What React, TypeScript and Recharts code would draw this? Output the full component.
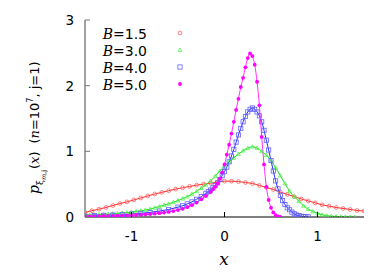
import React from 'react';
import { LineChart, Line, XAxis, YAxis, Legend } from 'recharts';

// ---------- data ----------
const redX = [-1.5, -1.425, -1.35, -1.275, -1.2, -1.125, -1.05, -0.975, -0.9, -0.825, -0.75, -0.675, -0.6, -0.525, -0.45, -0.375, -0.3, -0.225, -0.15, -0.075, 0, 0.075, 0.15, 0.225, 0.3, 0.375, 0.45, 0.525, 0.6, 0.675, 0.75, 0.825, 0.9, 0.975, 1.05, 1.125, 1.2, 1.275, 1.35, 1.425, 1.5];
const redY = [0.07, 0.095, 0.12, 0.145, 0.175, 0.205, 0.23, 0.26, 0.29, 0.32, 0.35, 0.375, 0.4, 0.425, 0.445, 0.465, 0.485, 0.5, 0.515, 0.53, 0.545, 0.545, 0.54, 0.525, 0.51, 0.48, 0.45, 0.42, 0.38, 0.345, 0.31, 0.275, 0.245, 0.215, 0.185, 0.165, 0.145, 0.13, 0.115, 0.1, 0.09];

const greenX = [-1.5, -1.45, -1.4, -1.35, -1.3, -1.25, -1.2, -1.15, -1.1, -1.05, -1.0, -0.95, -0.9, -0.85, -0.8, -0.75, -0.7, -0.65, -0.6, -0.55, -0.5, -0.45, -0.4, -0.35, -0.3, -0.25, -0.2, -0.15, -0.1, -0.05, 0, 0.05, 0.1, 0.15, 0.2, 0.25, 0.3, 0.35, 0.4, 0.45, 0.5, 0.55, 0.6, 0.65, 0.7, 0.75, 0.8, 0.85, 0.9, 0.95, 1.0, 1.05, 1.1, 1.15, 1.2, 1.25, 1.3, 1.35, 1.4];
const greenY = [0.03, 0.032, 0.035, 0.037, 0.04, 0.045, 0.05, 0.055, 0.06, 0.067, 0.075, 0.085, 0.095, 0.107, 0.12, 0.14, 0.16, 0.18, 0.2, 0.225, 0.25, 0.28, 0.31, 0.35, 0.39, 0.44, 0.49, 0.55, 0.62, 0.7, 0.78, 0.84, 0.9, 0.96, 1.01, 1.05, 1.07, 1.05, 1.0, 0.94, 0.86, 0.75, 0.63, 0.51, 0.39, 0.31, 0.24, 0.17, 0.12, 0.085, 0.055, 0.035, 0.02, 0.012, 0.006, 0.003, 0.001, 0, 0];

const blueX = [-1.5, -1.4, -1.3, -1.2, -1.1, -1.0, -0.9, -0.8, -0.7, -0.6, -0.5, -0.45, -0.4, -0.35, -0.3, -0.25, -0.2, -0.175, -0.15, -0.125, -0.1, -0.075, -0.05, -0.025, 0, 0.025, 0.05, 0.075, 0.1, 0.125, 0.15, 0.175, 0.2, 0.225, 0.25, 0.275, 0.3, 0.325, 0.35, 0.375, 0.4, 0.425, 0.45, 0.475, 0.5, 0.525, 0.55, 0.575, 0.6, 0.625, 0.65, 0.675, 0.7, 0.725, 0.75, 0.775, 0.8, 0.825, 0.85, 0.875, 0.9];
const blueY = [0.015, 0.02, 0.025, 0.03, 0.035, 0.045, 0.055, 0.07, 0.09, 0.115, 0.15, 0.17, 0.2, 0.23, 0.27, 0.31, 0.36, 0.385, 0.41, 0.445, 0.48, 0.52, 0.57, 0.63, 0.69, 0.76, 0.84, 0.93, 1.03, 1.14, 1.25, 1.35, 1.45, 1.53, 1.6, 1.64, 1.66, 1.64, 1.6, 1.54, 1.45, 1.32, 1.17, 1.02, 0.86, 0.7, 0.55, 0.43, 0.33, 0.25, 0.19, 0.14, 0.11, 0.075, 0.05, 0.03, 0.02, 0.012, 0.008, 0.004, 0.002];

const magentaX = [-1.5, -1.45, -1.4, -1.35, -1.3, -1.25, -1.2, -1.15, -1.1, -1.05, -1.0, -0.95, -0.9, -0.85, -0.8, -0.75, -0.7, -0.65, -0.6, -0.55, -0.5, -0.45, -0.4, -0.35, -0.3, -0.25, -0.2, -0.15, -0.125, -0.1, -0.075, -0.05, -0.025, 0, 0.025, 0.05, 0.075, 0.1, 0.125, 0.15, 0.175, 0.2, 0.225, 0.25, 0.275, 0.3, 0.325, 0.35, 0.375, 0.4, 0.425, 0.45, 0.475, 0.5, 0.525, 0.55, 0.575, 0.6];
const magentaY = [0.01, 0.011, 0.012, 0.013, 0.015, 0.016, 0.018, 0.02, 0.022, 0.025, 0.028, 0.031, 0.035, 0.04, 0.045, 0.051, 0.058, 0.067, 0.078, 0.09, 0.105, 0.125, 0.15, 0.18, 0.22, 0.27, 0.32, 0.38, 0.42, 0.46, 0.51, 0.58, 0.68, 0.8, 0.95, 1.1, 1.27, 1.45, 1.63, 1.8, 1.98, 2.12, 2.28, 2.42, 2.49, 2.45, 2.32, 2.06, 1.7, 1.22, 0.8, 0.46, 0.26, 0.14, 0.07, 0.03, 0.01, 0.003];

const seriesLabels = ['1.5', '3.0', '4.0', '5.0'];
const xTicks = [-1, 0, 1];
const yTicks = [0, 1, 2, 3];

const toRows = (xs: number[], ys: number[]) => xs.map((x, i) => ({ x, y: ys[i] }));

const COLORS = {
  red: { line: '#ff2a2a', mark: '#ff6060' },
  green: { line: '#16e016', mark: '#50f050' },
  blue: { line: '#2a2aff', mark: '#6060ff' },
  magenta: { line: '#ff30ff', mark: '#ff00ff' },
};

const SANS = '"DejaVu Sans", "Liberation Sans", Arial, sans-serif';
const SERIF = '"DejaVu Serif", "Liberation Serif", serif';

// ---------- markers ----------
const Marker = ({ kind, cx, cy, color }: { kind: string; cx: number; cy: number; color: string }) => {
  if (kind === 'circle') return <circle cx={cx} cy={cy} r={1.9} fill="none" stroke={color} strokeWidth={0.8} />;
  if (kind === 'triangle')
    return (
      <polygon
        points={`${cx},${cy - 2} ${cx - 1.9},${cy + 1.4} ${cx + 1.9},${cy + 1.4}`}
        fill="none"
        stroke={color}
        strokeWidth={0.8}
      />
    );
  if (kind === 'square') return <rect x={cx - 2.1} y={cy - 2.1} width={4.2} height={4.2} fill="none" stroke={color} strokeWidth={0.8} />;
  return <circle cx={cx} cy={cy} r={1.9} fill={color} stroke="none" />;
};

const makeDot = (kind: string, color: string) => (props: any) => {
  const { cx, cy, index } = props;
  if (cx == null || cy == null) return <g key={`d-${index}`} />;
  return <Marker key={`d-${kind}-${index}`} kind={kind} cx={cx} cy={cy} color={color} />;
};

// ---------- ticks ----------
const BottomTick = (props: any) => {
  const { x, y, payload } = props;
  return (
    <g>
      <line x1={x} y1={y} x2={x} y2={y - 5} stroke="#000" strokeWidth={1} />
      <text x={x} y={y + 24} textAnchor="middle" fontSize={13.5} fontFamily={SANS} fill="#000">
        {String(payload.value)}
      </text>
    </g>
  );
};
const TopTick = (props: any) => {
  const { x, y } = props;
  return <line x1={x} y1={y} x2={x} y2={y + 4} stroke="#555" strokeWidth={1} />;
};
const LeftTick = (props: any) => {
  const { x, y, payload } = props;
  return (
    <g>
      <line x1={x} y1={y} x2={x + 5} y2={y} stroke="#777" strokeWidth={1} />
      <text x={x - 11} y={y + 5} textAnchor="end" fontSize={13.5} fontFamily={SANS} fill="#000">
        {String(payload.value)}
      </text>
    </g>
  );
};
const RightTick = (props: any) => {
  const { x, y } = props;
  return <line x1={x} y1={y} x2={x - 4} y2={y} stroke="#777" strokeWidth={1} />;
};

// ---------- legend ----------
const legendKinds = [
  { kind: 'circle', color: COLORS.red.mark },
  { kind: 'triangle', color: COLORS.green.mark },
  { kind: 'square', color: COLORS.blue.mark },
  { kind: 'dot', color: COLORS.magenta.mark },
];
const LegendContent = () => (
  <svg width={390} height={273} style={{ position: 'absolute', left: 0, top: 0, overflow: 'visible' }}>
    {seriesLabels.map((lab, i) => {
      const base = 39 + i * 17;
      return (
        <g key={lab}>
          <text x={147} y={base} textAnchor="end" fontSize={14} fontFamily={SANS} fill="#000">
            <tspan fontFamily={SERIF} fontStyle="italic">B</tspan>
            <tspan>={lab}</tspan>
          </text>
          <Marker kind={legendKinds[i].kind} cx={180} cy={base - 6} color={legendKinds[i].color} />
        </g>
      );
    })}
  </svg>
);

// ---------- axis labels ----------
const YLabel = () => (
  <svg width={390} height={273} style={{ position: 'absolute', left: 0, top: 0, pointerEvents: 'none' }}>
    <text transform="translate(39,194) rotate(-90)" fontSize={13} fontFamily={SANS} fill="#000">
      <tspan fontFamily={SERIF} fontStyle="italic" fontSize={14}>p</tspan>
      <tspan fontFamily={SERIF} fontSize={9} dy={4}>ξ</tspan>
      <tspan fontFamily={SERIF} fontStyle="italic" fontSize={6.5} dy={3}>m</tspan>
      <tspan fontSize={6.5}>,j</tspan>
      <tspan dy={-7} dx={1}>(</tspan>
      <tspan fontFamily={SERIF} fontStyle="italic">x</tspan>
      <tspan>)</tspan>
      <tspan dx={8}>(</tspan>
      <tspan fontFamily={SERIF} fontStyle="italic">n</tspan>
      <tspan>=10</tspan>
      <tspan fontSize={8} dy={-6}>7</tspan>
      <tspan dy={6}>, j=1)</tspan>
    </text>
    <text x={224} y={265} textAnchor="middle" fontSize={17} fontFamily={SERIF} fontStyle="italic" fill="#000">
      x
    </text>
  </svg>
);

export default function App() {
  return (
    <div style={{ position: 'absolute', left: 0, top: 0, width: 390, height: 273, background: '#fff' }}>
      <LineChart width={390} height={273} margin={{ top: 20, right: 26, bottom: 26, left: 25 }}>
        <XAxis
          xAxisId="b"
          dataKey="x"
          type="number"
          domain={[-1.5, 1.5]}
          ticks={xTicks}
          allowDataOverflow
          height={30}
          tickSize={0}
          tickMargin={0}
          tickLine={false}
          tick={<BottomTick />}
          axisLine={{ stroke: '#000', strokeWidth: 1.2 }}
        />
        <XAxis
          xAxisId="t"
          orientation="top"
          type="number"
          domain={[-1.5, 1.5]}
          ticks={xTicks}
          allowDataOverflow
          height={0}
          tickSize={0}
          tickMargin={0}
          tickLine={false}
          tick={<TopTick />}
          axisLine={{ stroke: '#555', strokeWidth: 1 }}
        />
        <YAxis
          yAxisId="l"
          type="number"
          domain={[0, 3]}
          ticks={yTicks}
          allowDataOverflow
          width={60}
          tickSize={0}
          tickMargin={0}
          tickLine={false}
          tick={<LeftTick />}
          axisLine={{ stroke: '#999', strokeWidth: 1.8 }}
        />
        <YAxis
          yAxisId="r"
          orientation="right"
          type="number"
          domain={[0, 3]}
          ticks={yTicks}
          allowDataOverflow
          width={0}
          tickSize={0}
          tickMargin={0}
          tickLine={false}
          tick={<RightTick />}
          axisLine={{ stroke: '#999', strokeWidth: 1 }}
        />
        <Line
          xAxisId="b"
          yAxisId="l"
          data={toRows(redX, redY)}
          dataKey="y"
          type="monotone"
          stroke={COLORS.red.line}
          strokeWidth={1}
          dot={makeDot('circle', COLORS.red.mark)}
          isAnimationActive={false}
        />
        <Line
          xAxisId="b"
          yAxisId="l"
          data={toRows(greenX, greenY)}
          dataKey="y"
          type="monotone"
          stroke={COLORS.green.line}
          strokeWidth={1}
          dot={makeDot('triangle', COLORS.green.mark)}
          isAnimationActive={false}
        />
        <Line
          xAxisId="b"
          yAxisId="l"
          data={toRows(blueX, blueY)}
          dataKey="y"
          type="monotone"
          stroke={COLORS.blue.line}
          strokeWidth={1}
          dot={makeDot('square', COLORS.blue.mark)}
          isAnimationActive={false}
        />
        <Line
          xAxisId="b"
          yAxisId="l"
          data={toRows(magentaX, magentaY)}
          dataKey="y"
          type="monotone"
          stroke={COLORS.magenta.line}
          strokeWidth={1}
          dot={makeDot('dot', COLORS.magenta.mark)}
          isAnimationActive={false}
        />
        <Legend
          layout="vertical"
          align="center"
          verticalAlign="middle"
          content={<LegendContent />}
          wrapperStyle={{ left: 0, top: 0, width: 390, height: 273, pointerEvents: 'none' }}
        />
      </LineChart>
      <YLabel />
    </div>
  );
}
